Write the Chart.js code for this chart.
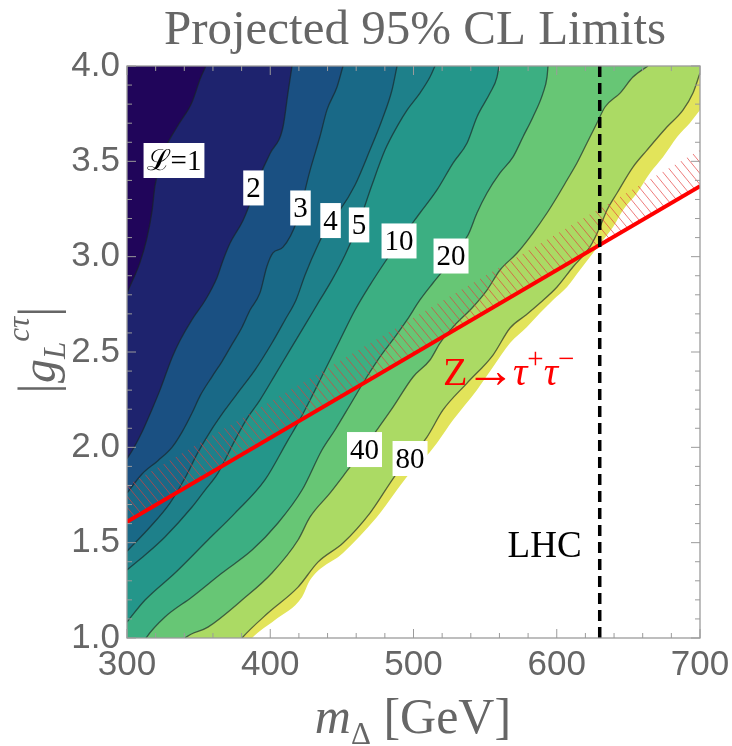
<!DOCTYPE html>
<html>
<head>
<meta charset="utf-8">
<script src="https://cdn.jsdelivr.net/npm/chart.js@4/dist/chart.umd.min.js"></script>
<style>
  body { margin: 0; background: #fff; }
  #wrap { width: 732px; height: 746px; position: relative; }
</style>
</head>
<body>
<div id="wrap"><canvas id="myChart"></canvas></div>
<script>
// contour lines of the luminosity needed, [m_Delta (GeV), |g_L|]
// (points below y = 1 only close the shape under the frame)
const contour1 = [[300,2.81],[304.2,2.88],[309.1,2.97],[314,3.1],[317.5,3.24],[319.5,3.37],[325.1,3.54],[334.9,3.68],[345.4,3.81],[351,3.93],[355.1,4]];
const contour2 = [[300,1.94],[304.2,1.99],[310.5,2.08],[317.5,2.2],[323,2.3],[327.9,2.4],[331.4,2.47],[337,2.56],[345.4,2.67],[354.5,2.77],[362.8,2.89],[367,2.98],[371.9,3.07],[381,3.19],[385.9,3.28],[391.4,3.4],[399.8,3.54],[408.9,3.68],[412.4,3.86],[415.2,4]];
const contour3 = [[300,1.76],[310.5,1.86],[321.6,1.93],[331.4,2.0],[338.4,2.08],[345.4,2.18],[351,2.27],[359.3,2.37],[366.3,2.45],[373.3,2.54],[380.3,2.63],[385.9,2.72],[392.8,2.81],[397.7,2.95],[401.9,3.02],[408.9,3.05],[418.7,3.19],[427.7,3.45],[434.7,3.63],[439.6,3.77],[446.6,3.89],[450.8,4]];
const contour4 = [[300,1.455],[316.1,1.582],[330,1.708],[340.5,1.839],[349.6,1.975],[357.9,2.08],[368.4,2.196],[378.9,2.301],[389.4,2.406],[401.2,2.547],[410.3,2.668],[418,2.773],[424.3,2.904],[433.3,3.061],[441.7,3.182],[448.7,3.245],[459.2,3.376],[469.6,3.559],[478,3.717],[485,3.874],[488.5,4]];
const contour5 = [[300,1.357],[312.6,1.435],[326.5,1.53],[345.4,1.687],[354.5,1.776],[363.5,1.865],[375.4,2.038],[383.1,2.143],[392.8,2.248],[403.3,2.379],[413.8,2.511],[424.3,2.642],[434.7,2.773],[443.1,2.878],[452.2,3.009],[461.3,3.166],[471,3.376],[480.1,3.559],[489.2,3.691],[495.5,3.769],[504.5,3.858],[511.5,3.942],[515,4]];
const contour10 = [[300,1.084],[312.6,1.199],[333.5,1.341],[356.5,1.514],[375.4,1.655],[396.3,1.829],[412.4,2.038],[419.4,2.128],[427.8,2.248],[438.2,2.406],[448.7,2.563],[459.2,2.72],[469.6,2.851],[480.1,2.972],[490.6,3.087],[504.5,3.229],[516.4,3.35],[527.6,3.491],[537.4,3.596],[544.3,3.733],[553.4,3.858],[558.3,3.942],[559.7,4]];
const contour20 = [[300,0.9],[306,0.9],[313.3,1],[326.5,1.11],[345.4,1.215],[366.3,1.341],[387.3,1.461],[405.4,1.603],[422.2,1.776],[436.1,1.986],[445.2,2.091],[455.7,2.222],[466.1,2.353],[476.6,2.474],[487.1,2.579],[495.5,2.668],[504.5,2.773],[513.6,2.862],[522,2.941],[529,3.024],[538.1,3.114],[544.3,3.229],[551.3,3.334],[560.4,3.439],[569.5,3.523],[576.4,3.628],[583.4,3.733],[590.4,3.858],[593.2,3.942],[593.9,4]];
const contour40 = [[300,0.9],[330,0.9],[340.5,1],[356.5,1.057],[380.3,1.199],[401.2,1.341],[419.4,1.514],[427.8,1.635],[441.7,1.76],[455.7,1.897],[464.8,1.986],[474.5,2.091],[485.7,2.211],[499.7,2.369],[511.5,2.458],[518.5,2.547],[527.6,2.631],[541.5,2.736],[551.3,2.825],[560.4,2.93],[572.3,3.019],[583.4,3.124],[593.2,3.229],[600.2,3.313],[607.2,3.402],[614.1,3.491],[621.1,3.596],[628.1,3.701],[633.7,3.785],[644.2,3.858],[653.2,3.942],[663.7,4]];
const contour80 = [[300,0.9],[370,0.9],[380.3,1],[398.4,1.131],[419.4,1.267],[433.3,1.398],[450.8,1.498],[469.6,1.655],[488.5,1.865],[497.6,1.944],[509.4,2.054],[520.6,2.196],[537.4,2.337],[555.5,2.484],[567.4,2.626],[578.5,2.694],[588.3,2.757],[600.2,2.841],[611.3,2.946],[623.2,3.051],[630.2,3.156],[635.1,3.245],[642.1,3.334],[653.2,3.47],[663,3.559],[676.9,3.68],[688.1,3.769],[695.1,3.858],[700,3.963]];
// edge of the computed region (white beyond it)
const dataEdge = [[300,0.9],[377,0.9],[387.3,1],[403.3,1.094],[422.2,1.215],[427.8,1.304],[450.8,1.446],[474.5,1.635],[497.6,1.865],[506.6,1.933],[516.4,2.023],[527.6,2.143],[544.3,2.301],[555.5,2.421],[567.4,2.547],[579.2,2.631],[588.3,2.704],[597.4,2.773],[607.2,2.841],[616.2,2.93],[625.3,3.019],[632.3,3.087],[639.3,3.156],[646.3,3.245],[656,3.334],[665.1,3.439],[674.2,3.523],[684,3.628],[693,3.701],[700,3.769]];

// Z -> tau tau bound and LHC bound
const zBound = [[300,1.61],[700,3.37]];
const hatchWidth = 0.19;
const lhcMass = 630;

// contour labels
const labelText = ["ℒ=1", "2", "3", "4", "5", "10", "20", "40", "80"];
const labelX = [332.8, 388.3, 421.1, 442.1, 462.0, 489.9, 526.2, 465.8, 497.6];
const labelY = [3.507, 3.363, 3.258, 3.192, 3.169, 3.085, 3.006, 1.991, 1.944];

const bandColors = ["#20055a", "#1e236e", "#1a5082", "#196987", "#1e808a", "#24968a", "#3caf82", "#67c675", "#abda64"];
const edgeColor = "#e2e45a";

const toPts = (arr) => arr.map(([x, y]) => ({ x, y }));

// red hatch pattern
const hatch = document.createElement("canvas");
hatch.width = 9;
hatch.height = 11;
const hctx = hatch.getContext("2d");
hctx.strokeStyle = "rgba(228,60,60,0.75)";
hctx.lineWidth = 0.9;
hctx.beginPath();
for (const off of [-9, 0, 9]) {
  hctx.moveTo(off - 1, -11 / 9);
  hctx.lineTo(off + 10, 11 + 11 / 9);
}
hctx.stroke();
const hatchPattern = hctx.createPattern(hatch, "repeat");

const contours = [contour1, contour2, contour3, contour4, contour5, contour10, contour20, contour40, contour80];
const datasets = contours.map((c, i) => ({
  data: toPts(c),
  backgroundColor: bandColors[i],
  borderColor: "rgba(25,35,35,0.65)",
  borderWidth: 1.3,
  fill: "end",
  cubicInterpolationMode: "monotone",
  pointRadius: 0,
  order: i,
}));
datasets.push({
  data: toPts(dataEdge),
  backgroundColor: edgeColor,
  borderWidth: 0,
  fill: "end",
  cubicInterpolationMode: "monotone",
  pointRadius: 0,
  order: 9,
});
datasets.push({
  data: toPts(zBound.map(([x, y]) => [x, y + hatchWidth])),
  backgroundColor: hatchPattern,
  borderWidth: 0,
  fill: "+1",
  pointRadius: 0,
  order: -1,
});
datasets.push({
  data: toPts(zBound),
  borderColor: "#ff0000",
  borderWidth: 4,
  fill: false,
  pointRadius: 0,
  order: -2,
});
datasets.push({
  data: [{ x: lhcMass, y: 1 }, { x: lhcMass, y: 4 }],
  borderColor: "#000",
  borderWidth: 3.5,
  borderDash: [11, 6],
  fill: false,
  pointRadius: 0,
  order: -3,
});

const serif = "'Liberation Serif', 'DejaVu Serif', serif";
const gray = "#666";

// parts: [text, italic, size factor, baseline shift, extra gap before]
function drawRich(ctx, parts, x, y, size, color, align) {
  const fontOf = (p) => `${p[1] ? "italic " : ""}${Math.round(size * p[2])}px ${serif}`;
  let total = 0;
  parts.forEach((p) => {
    ctx.font = fontOf(p);
    total += ctx.measureText(p[0]).width + (p[4] || 0) * size;
  });
  let cx = align === "center" ? x - total / 2 : x;
  ctx.fillStyle = color;
  ctx.textAlign = "left";
  ctx.textBaseline = "alphabetic";
  parts.forEach((p) => {
    ctx.font = fontOf(p);
    cx += (p[4] || 0) * size;
    ctx.fillText(p[0], cx, y + p[3] * size);
    cx += ctx.measureText(p[0]).width;
  });
}

const decor = {
  id: "decor",
  afterDatasetsDraw(chart) {
    const { ctx, chartArea: a, scales: { x, y } } = chart;
    ctx.save();
    ctx.strokeStyle = "#9b9b9b";
    ctx.lineWidth = 1.3;
    ctx.strokeRect(a.left, a.top, a.right - a.left, a.bottom - a.top);
    ctx.lineWidth = 1;
    ctx.beginPath();
    for (let v = 300; v <= 700; v += 20) {
      const px = x.getPixelForValue(v);
      const len = v % 100 === 0 ? 9 : 5;
      ctx.moveTo(px, a.bottom);
      ctx.lineTo(px, a.bottom - len);
      ctx.moveTo(px, a.top);
      ctx.lineTo(px, a.top + len);
    }
    for (let i = 10; i <= 40; i++) {
      const py = y.getPixelForValue(i / 10);
      const len = i % 5 === 0 ? 9 : 5;
      ctx.moveTo(a.left, py);
      ctx.lineTo(a.left + len, py);
      ctx.moveTo(a.right, py);
      ctx.lineTo(a.right - len, py);
    }
    ctx.stroke();

    // contour labels on white boxes
    ctx.font = `29px ${serif}`;
    ctx.textAlign = "center";
    ctx.textBaseline = "middle";
    labelText.forEach((t, i) => {
      const px = x.getPixelForValue(labelX[i]);
      const py = y.getPixelForValue(labelY[i]);
      const w = ctx.measureText(t).width + 6;
      ctx.fillStyle = "#fff";
      ctx.fillRect(px - w / 2, py - 17, w, 35);
      ctx.fillStyle = "#000";
      ctx.fillText(t, px, py + 2);
    });

    // annotations
    ctx.font = `37px ${serif}`;
    ctx.fillStyle = "#000";
    ctx.textBaseline = "alphabetic";
    ctx.fillText("LHC", x.getPixelForValue(591.5), y.getPixelForValue(1.425));
    drawRich(ctx, [["Z", false, 1, 0], ["→", false, 1.25, 0.04, -0.05], ["τ", true, 1, 0, -0.06], ["+", false, 0.72, -0.42], ["τ", true, 1, 0], ["−", false, 0.72, -0.42]],
      x.getPixelForValue(520.6), y.getPixelForValue(2.327), 40, "#ff0000", "left");
    ctx.restore();
  },
  afterDraw(chart) {
    const { ctx } = chart;
    ctx.save();
    ctx.fillStyle = gray;
    ctx.font = `49px ${serif}`;
    ctx.textAlign = "center";
    ctx.textBaseline = "alphabetic";
    ctx.fillText("Projected 95% CL Limits", 415, 44);
    drawRich(ctx, [["m", true, 1, 0], ["Δ", false, 0.62, 0.22], [" [GeV]", false, 1, 0]], 413, 733, 50, gray, "center");
    ctx.translate(55, 350);
    ctx.rotate(-Math.PI / 2);
    drawRich(ctx, [["|", false, 1.1, 0], ["g", true, 1, 0], ["L", true, 0.65, 0.2], ["cτ", true, 0.65, -0.55], ["|", false, 1.1, 0]], 0, 0, 48, gray, "center");
    ctx.restore();
  },
};

const tickFont = { family: "'Liberation Sans', Arial, sans-serif", size: 35 };

new Chart(document.getElementById("myChart"), {
  type: "line",
  data: { datasets },
  options: {
    responsive: true,
    maintainAspectRatio: false,
    animation: false,
    layout: { padding: { top: 66, right: 32, left: 0, bottom: 0 } },
    plugins: { legend: { display: false }, tooltip: { enabled: false } },
    scales: {
      x: {
        type: "linear",
        min: 300,
        max: 700,
        grid: { display: false, drawTicks: false },
        border: { display: false },
        ticks: { stepSize: 100, autoSkip: false, maxRotation: 0, padding: 6, color: gray, font: tickFont },
        afterFit: (s) => { s.height = 108; s.paddingLeft = 0; s.paddingRight = 0; },
      },
      y: {
        type: "linear",
        min: 1,
        max: 4,
        grid: { display: false, drawTicks: false },
        border: { display: false },
        ticks: { stepSize: 0.5, autoSkip: false, padding: 7, color: gray, font: tickFont, callback: (v) => v.toFixed(1) },
        afterFit: (s) => { s.width = 127; s.paddingTop = 0; s.paddingBottom = 0; },
      },
    },
  },
  plugins: [decor],
});
</script>
</body>
</html>
